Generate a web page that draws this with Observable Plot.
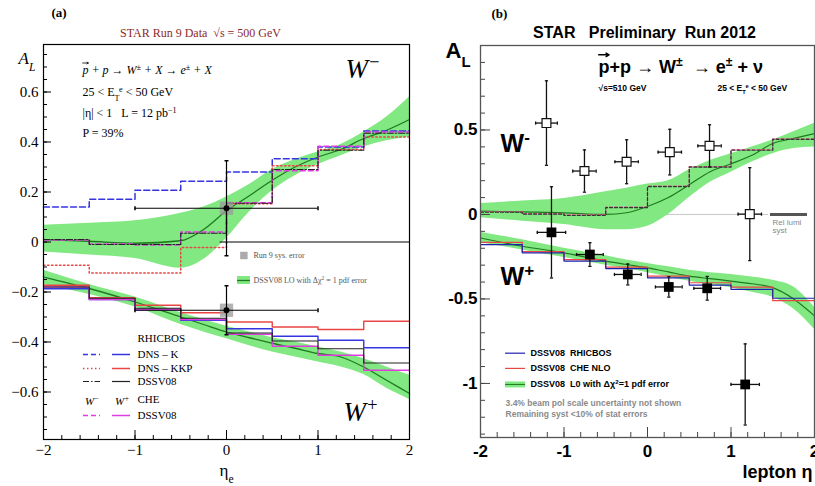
<!DOCTYPE html>
<html><head><meta charset="utf-8">
<script src="https://cdn.jsdelivr.net/npm/d3@7"></script>
<script src="https://cdn.jsdelivr.net/npm/@observablehq/plot@0.6"></script>
<style>
body{margin:0;background:#fff;}
#wrap{position:relative;width:815px;height:486px;overflow:hidden;background:#fff;}
#wrap svg{position:absolute;top:0;}
</style></head>
<body><div id="wrap"></div>
<script>
// ---------------- DATA ----------------
const binEdges = [-2,-1.5,-1,-0.5,0,0.5,1,1.5,2];
const bandEta = [-2,-1.5,-1,-0.5,-0.25,0,0.25,0.5,0.75,1,1.25,1.5,1.75,2];

// Panel (a): theory curves, W-
const aWmCenter = [0.01,0.003,-0.005,0.005,0.05,0.125,0.185,0.247,0.3,0.34,0.37,0.414,0.447,0.49];
const aWmLo     = [-0.04,-0.052,-0.066,-0.105,-0.07,0.015,0.12,0.205,0.265,0.31,0.345,0.38,0.405,0.42];
const aWmHi     = [0.067,0.075,0.085,0.115,0.14,0.18,0.23,0.29,0.33,0.36,0.39,0.44,0.5,0.58];
// Panel (a): theory curves, W+
const aWpCenter = [-0.14,-0.186,-0.24,-0.30,-0.33,-0.36,-0.383,-0.405,-0.425,-0.446,-0.46,-0.50,-0.553,-0.606];
const aWpHi     = [-0.113,-0.17,-0.22,-0.283,-0.31,-0.337,-0.36,-0.383,-0.40,-0.42,-0.44,-0.467,-0.50,-0.533];
const aWpLo     = [-0.17,-0.21,-0.26,-0.33,-0.36,-0.387,-0.415,-0.44,-0.46,-0.48,-0.50,-0.53,-0.585,-0.63];
// Panel (a): binned predictions (8 bins of 0.5)
const aWmDNSK    = [0.14,0.171,0.207,0.243,0.28,0.333,0.38,0.444];
const aWmDNSKKP  = [-0.093,-0.124,-0.124,-0.022,0.153,0.305,0.37,0.42];
const aWmDSSV    = [0.01,-0.01,-0.01,0.035,0.155,0.29,0.367,0.435];
const aWmCHE     = [0.008,-0.008,-0.012,0.04,0.157,0.285,0.383,0.44];
const aWpDNSK    = [-0.187,-0.23,-0.27,-0.313,-0.347,-0.377,-0.393,-0.423];
const aWpDNSKKP  = [-0.173,-0.223,-0.253,-0.283,-0.32,-0.34,-0.35,-0.317];
const aWpDSSV    = [-0.18,-0.225,-0.265,-0.305,-0.364,-0.396,-0.427,-0.484];
const aWpCHE     = [-0.18,-0.23,-0.27,-0.31,-0.369,-0.417,-0.453,-0.513];
// Panel (a): Run 9 data
const aDataEta  = [0, 0];
const aDataAL   = [0.135, -0.273];
const aDataErr  = [0.19, 0.098];
const aDataXErr = [1, 1];

// Panel (b): theory
const bWmCenter = [0.02,0.015,0.01,0.0,0.01,0.047,0.1,0.176,0.253,0.30,0.35,0.42,0.45,0.478];
const bWmLo     = [-0.02,-0.04,-0.06,-0.09,-0.09,-0.07,0.0,0.1,0.19,0.25,0.31,0.36,0.39,0.40];
const bWmHi     = [0.065,0.08,0.095,0.135,0.155,0.18,0.2,0.265,0.32,0.36,0.40,0.44,0.49,0.54];
const bWpCenter = [-0.139,-0.188,-0.227,-0.276,-0.296,-0.316,-0.34,-0.365,-0.38,-0.394,-0.41,-0.433,-0.5,-0.6];
const bWpHi     = [-0.105,-0.15,-0.2,-0.245,-0.27,-0.29,-0.31,-0.33,-0.345,-0.355,-0.37,-0.39,-0.43,-0.55];
const bWpLo     = [-0.167,-0.21,-0.255,-0.3,-0.32,-0.345,-0.37,-0.395,-0.415,-0.433,-0.46,-0.49,-0.56,-0.68];
const bWmRHIC   = [0.013,0.002,-0.006,0.04,0.165,0.28,0.38,0.445];
const bWmCHE    = [0.016,0.005,-0.003,0.043,0.168,0.284,0.384,0.448];
const bWpRHIC   = [-0.178,-0.227,-0.276,-0.32,-0.375,-0.418,-0.443,-0.496];
const bWpCHE    = [-0.165,-0.22,-0.267,-0.312,-0.365,-0.404,-0.43,-0.51];
// Panel (b): Run 2012 data
const bWmEta  = [-1.21,-0.755,-0.25,0.267,0.743,1.225];
const bWmAL   = [0.541,0.257,0.312,0.369,0.406,0.002];
const bWmErr  = [0.25,0.125,0.13,0.135,0.125,0.275];
const bWmXErr = [0.13,0.14,0.14,0.14,0.14,0.14];
const bWpEta  = [-1.15,-0.69,-0.236,0.255,0.715,1.17];
const bWpAL   = [-0.106,-0.237,-0.355,-0.429,-0.437,-1.006];
const bWpErr  = [0.27,0.07,0.062,0.06,0.07,0.24];
const bWpXErr = [0.17,0.16,0.16,0.16,0.16,0.17];

// tick labels
const aYTicks = [0.6,0.4,0.2,0,-0.2,-0.4,-0.6];
const aXTicks = [-2,-1,0,1,2];
const bYTicks = [0.5,0,-0.5,-1];
const bXTicks = [-2,-1,0,1,2];

// ---------------- HELPERS ----------------
const steps = v => binEdges.map((e,i)=>({x:e, y:v[Math.min(i, v.length-1)]}));
const band = (c,lo,hi) => bandEta.map((e,i)=>({eta:e, c:c[i], lo:lo[i], hi:hi[i]}));
const pts = (eta,al,err,xerr) => eta.map((e,i)=>({x:e, y:al[i], e:err[i], xe:xerr[i]}));
const range = (a,b,s) => d3.range(Math.round((b-a)/s)+1).map(i=>+(a+i*s).toFixed(4));
const capH = {draw(ctx,size){const r=Math.sqrt(size/Math.PI);ctx.moveTo(-r,0);ctx.lineTo(r,0);}};
const capV = {draw(ctx,size){const r=Math.sqrt(size/Math.PI);ctx.moveTo(0,-r);ctx.lineTo(0,r);}};
const T = (s,x,y,o={}) => Plot.text([s],{x,y,text:d=>d,lineAnchor:"middle",...o});
function richify(svg){
  const ns="http://www.w3.org/2000/svg";
  svg.querySelectorAll("text").forEach(t=>{
    if (t.children.length) return;
    const s=t.textContent; if(!/[_^]\{/.test(s)) return;
    t.textContent="";
    const re=/([_^])\{([^}]*)\}/g; let last=0,m;
    const add=(str,k)=>{const ts=document.createElementNS(ns,"tspan");ts.textContent=str;
      if(k){ts.setAttribute("font-size","68%");ts.setAttribute("baseline-shift",k==="^"?"super":"sub");}
      t.appendChild(ts);};
    while((m=re.exec(s))){ if(m.index>last) add(s.slice(last,m.index),null); add(m[2],m[1]); last=re.lastIndex; }
    if(last<s.length) add(s.slice(last),null);
  });
}

const GREEN="#82e882", DKGREEN="#1d7a1d";
const BLUE="#3535e0", RED="#ea4545", MAG="#e03de0", BLK="#222";

// ---------------- PANEL (a) ----------------
const A = {w:410,h:486,ml:43,mr:1,mt:44,mb:47};
const aPW = A.w-A.ml-A.mr, aPH = A.h-A.mt-A.mb;
const serif = "Liberation Serif, DejaVu Serif, serif";
const aWmBand = band(aWmCenter,aWmLo,aWmHi), aWpBand = band(aWpCenter,aWpLo,aWpHi);
const aPts = pts(aDataEta,aDataAL,aDataErr,aDataXErr);

const plotA = Plot.plot({
  width:A.w, height:A.h, marginLeft:A.ml, marginRight:A.mr, marginTop:A.mt, marginBottom:A.mb,
  style:{fontFamily:serif, background:"transparent", overflow:"visible"},
  x:{domain:[-2,2]}, y:{domain:[-0.79,0.79]},
  marks:[
    Plot.areaY(aWmBand,{x:"eta",y1:"lo",y2:"hi",fill:GREEN,curve:"monotone-x"}),
    Plot.areaY(aWpBand,{x:"eta",y1:"lo",y2:"hi",fill:GREEN,curve:"monotone-x"}),
    Plot.line(aWmBand,{x:"eta",y:"c",stroke:DKGREEN,strokeWidth:1.3,curve:"monotone-x"}),
    Plot.line(aWpBand,{x:"eta",y:"c",stroke:DKGREEN,strokeWidth:1.3,curve:"monotone-x"}),
    // W- predictions
    Plot.line(steps(aWmDNSK),{x:"x",y:"y",curve:"step-after",stroke:BLUE,strokeWidth:1.5,strokeDasharray:"6,3"}),
    Plot.line(steps(aWmDNSKKP),{x:"x",y:"y",curve:"step-after",stroke:RED,strokeWidth:1.5,strokeDasharray:"1.5,2.5"}),
    Plot.line(steps(aWmCHE),{x:"x",y:"y",curve:"step-after",stroke:MAG,strokeWidth:1.5,strokeDasharray:"5,3"}),
    Plot.line(steps(aWmDSSV),{x:"x",y:"y",curve:"step-after",stroke:BLK,strokeWidth:1.2,strokeDasharray:"6,2,1.5,2"}),
    // W+ predictions
    Plot.line(steps(aWpDNSKKP),{x:"x",y:"y",curve:"step-after",stroke:RED,strokeWidth:1.4}),
    Plot.line(steps(aWpDNSK),{x:"x",y:"y",curve:"step-after",stroke:BLUE,strokeWidth:1.4}),
    Plot.line(steps(aWpCHE),{x:"x",y:"y",curve:"step-after",stroke:MAG,strokeWidth:1.4}),
    Plot.line(steps(aWpDSSV),{x:"x",y:"y",curve:"step-after",stroke:BLK,strokeWidth:1.2}),
    // legend box top line
    Plot.ruleY([0],{x1:-0.07,x2:2,stroke:"black",strokeWidth:1}),
    // data
    Plot.dot(aPts,{x:"x",y:"y",symbol:"square",r:7.5,fill:"#999",fillOpacity:0.75}),
    Plot.ruleX(aPts,{x:"x",y1:d=>d.y-d.e,y2:d=>d.y+d.e,stroke:"black",strokeWidth:1.2}),
    Plot.ruleY(aPts,{y:"y",x1:d=>d.x-d.xe,x2:d=>d.x+d.xe,stroke:"black",strokeWidth:1.2}),
    Plot.dot(aPts,{x:"x",y:d=>d.y+d.e,symbol:capH,r:2,stroke:"black",fill:"none"}),
    Plot.dot(aPts,{x:"x",y:d=>d.y-d.e,symbol:capH,r:2,stroke:"black",fill:"none"}),
    Plot.dot(aPts,{x:d=>d.x-d.xe,y:"y",symbol:capV,r:2,stroke:"black",fill:"none"}),
    Plot.dot(aPts,{x:d=>d.x+d.xe,y:"y",symbol:capV,r:2,stroke:"black",fill:"none"}),
    Plot.dot(aPts,{x:"x",y:"y",r:3,fill:"black"}),
    // right-side legend
    Plot.dot([0],{x:0.19,y:-0.054,symbol:"square",r:4.2,fill:"#aaa"}),
    T("Run 9 sys. error",0.295,-0.054,{textAnchor:"start",fontSize:8,fill:"#555"}),
    Plot.rect([0],{x1:0.12,x2:0.262,y1:-0.138,y2:-0.17,fill:GREEN}),
    Plot.ruleY([-0.154],{x1:0.12,x2:0.262,stroke:DKGREEN,strokeWidth:1.3}),
    T("DSSV08 LO with Δχ^{2} = 1 pdf error",0.295,-0.154,{textAnchor:"start",fontSize:8,fill:"#555"}),
    // bottom-left legend
    T("RHICBOS",-0.973,-0.386,{textAnchor:"start",fontSize:11}),
    Plot.ruleY([-0.45],{x1:-1.563,x2:-1.377,stroke:BLUE,strokeWidth:1.5,strokeDasharray:"5,3"}),
    Plot.ruleY([-0.45],{x1:-1.246,x2:-1.049,stroke:BLUE,strokeWidth:1.5}),
    T("DNS – K",-0.973,-0.45,{textAnchor:"start",fontSize:11}),
    Plot.ruleY([-0.506],{x1:-1.563,x2:-1.377,stroke:RED,strokeWidth:1.5,strokeDasharray:"1.5,2.5"}),
    Plot.ruleY([-0.506],{x1:-1.246,x2:-1.049,stroke:RED,strokeWidth:1.5}),
    T("DNS – KKP",-0.973,-0.506,{textAnchor:"start",fontSize:11}),
    Plot.ruleY([-0.558],{x1:-1.563,x2:-1.377,stroke:BLK,strokeWidth:1.2,strokeDasharray:"6,2,1.5,2"}),
    Plot.ruleY([-0.558],{x1:-1.246,x2:-1.049,stroke:BLK,strokeWidth:1.2}),
    T("DSSV08",-0.973,-0.558,{textAnchor:"start",fontSize:11}),
    T("W^{−}",-1.47,-0.638,{fontSize:11,fontStyle:"italic"}),
    T("W^{+}",-1.14,-0.638,{fontSize:11,fontStyle:"italic"}),
    T("CHE",-0.973,-0.63,{textAnchor:"start",fontSize:11}),
    Plot.ruleY([-0.694],{x1:-1.563,x2:-1.377,stroke:MAG,strokeWidth:1.5,strokeDasharray:"5,3"}),
    Plot.ruleY([-0.694],{x1:-1.246,x2:-1.049,stroke:MAG,strokeWidth:1.5}),
    T("DSSV08",-0.973,-0.694,{textAnchor:"start",fontSize:11}),
    // annotations
    Plot.arrow([0],{x1:-1.572,x2:-1.51,y1:0.716,y2:0.716,headLength:3,strokeWidth:0.8,stroke:"black"}),
    T("p + p → W^{±} + X → e^{±} + X",-1.574,0.686,{textAnchor:"start",fontSize:12,fontStyle:"italic"}),
    T("25 < E_{T}^{e} < 50 GeV",-1.574,0.598,{textAnchor:"start",fontSize:12}),
    T("|η| < 1   L = 12 pb^{−1}",-1.574,0.514,{textAnchor:"start",fontSize:12}),
    T("P = 39%",-1.574,0.434,{textAnchor:"start",fontSize:12}),
    T("W^{−}",1.49,0.69,{fontSize:27,fontStyle:"italic"}),
    T("W^{+}",1.47,-0.682,{fontSize:27,fontStyle:"italic"}),
    // titles & axis labels (in margins)
    T("(a)",null,null,{frameAnchor:"top-left",dx:8,dy:-32,fontSize:13,fontWeight:"bold"}),
    T("STAR Run 9 Data  √s = 500 GeV",null,null,{frameAnchor:"top",dx:-26,dy:-11,fontSize:12,fill:"#8b2a2a"}),
    T("A_{L}",null,null,{frameAnchor:"top-left",dx:-25,dy:14,fontSize:17,fontStyle:"italic"}),
    T("η_{e}",null,null,{frameAnchor:"bottom",dy:31,fontSize:17}),
    // ticks (inside frame)
    Plot.tickY(range(-0.75,0.75,0.05),{y:d=>d,insetRight:aPW-4,stroke:"black"}),
    Plot.tickY(aYTicks,{y:d=>d,insetRight:aPW-8,stroke:"black"}),
    Plot.tickX(range(-2,2,0.2),{x:d=>d,insetTop:aPH-4,stroke:"black"}),
    Plot.tickX(aXTicks,{x:d=>d,insetTop:aPH-9,stroke:"black"}),
    Plot.axisY(aYTicks,{tickSize:0,tickPadding:5,label:null,fontSize:15,tickFormat:d=>d3.format("")(d).replace("-","−")}),
    Plot.axisX(aXTicks,{tickSize:0,tickPadding:5,label:null,fontSize:15,tickFormat:d=>String(d).replace("-","−")}),
    Plot.frame({stroke:"black",strokeWidth:1.2})
  ]
});

// ---------------- PANEL (b) ----------------
const B = {w:405,h:486,ml:70,mr:1,mt:45,mb:49};
const bPW = B.w-B.ml-B.mr, bPH = B.h-B.mt-B.mb;
const sans = "Liberation Sans, Arial, Helvetica, sans-serif";
const bWmBand = band(bWmCenter,bWmLo,bWmHi), bWpBand = band(bWpCenter,bWpLo,bWpHi);
const bWm = pts(bWmEta,bWmAL,bWmErr,bWmXErr), bWp = pts(bWpEta,bWpAL,bWpErr,bWpXErr);
const errMarks = (P) => [
  Plot.ruleX(P,{x:"x",y1:d=>d.y-d.e,y2:d=>d.y+d.e,stroke:"#111",strokeWidth:1.3}),
  Plot.ruleY(P,{y:"y",x1:d=>d.x-d.xe,x2:d=>d.x+d.xe,stroke:"#111",strokeWidth:1.3}),
  Plot.dot(P,{x:"x",y:d=>d.y+d.e,symbol:capH,r:1.6,stroke:"#111",fill:"none",strokeWidth:1.3}),
  Plot.dot(P,{x:"x",y:d=>d.y-d.e,symbol:capH,r:1.6,stroke:"#111",fill:"none",strokeWidth:1.3}),
  Plot.dot(P,{x:d=>d.x-d.xe,y:"y",symbol:capV,r:1.6,stroke:"#111",fill:"none",strokeWidth:1.3}),
  Plot.dot(P,{x:d=>d.x+d.xe,y:"y",symbol:capV,r:1.6,stroke:"#111",fill:"none",strokeWidth:1.3})
];

const plotB = Plot.plot({
  width:B.w, height:B.h, marginLeft:B.ml, marginRight:B.mr, marginTop:B.mt, marginBottom:B.mb,
  style:{fontFamily:sans, background:"transparent", overflow:"visible"},
  x:{domain:[-2,2]}, y:{domain:[-1.32,1.0]},
  marks:[
    Plot.ruleY([0],{x1:-2,x2:1.45,stroke:"#c8c8c8",strokeWidth:1}),
    Plot.areaY(bWmBand,{x:"eta",y1:"lo",y2:"hi",fill:GREEN,curve:"monotone-x"}),
    Plot.areaY(bWpBand,{x:"eta",y1:"lo",y2:"hi",fill:GREEN,curve:"monotone-x"}),
    Plot.line(bWmBand,{x:"eta",y:"c",stroke:DKGREEN,strokeWidth:1.2,curve:"monotone-x"}),
    Plot.line(bWpBand,{x:"eta",y:"c",stroke:DKGREEN,strokeWidth:1.2,curve:"monotone-x"}),
    Plot.line(steps(bWmCHE),{x:"x",y:"y",curve:"step-after",stroke:"#e0508c",strokeWidth:1.2,strokeDasharray:"3,2"}),
    Plot.line(steps(bWmRHIC),{x:"x",y:"y",curve:"step-after",stroke:"#333",strokeWidth:1.2,strokeDasharray:"3,2"}),
    Plot.line(steps(bWpCHE),{x:"x",y:"y",curve:"step-after",stroke:RED,strokeWidth:1.2}),
    Plot.line(steps(bWpRHIC),{x:"x",y:"y",curve:"step-after",stroke:"#2020b0",strokeWidth:1.2}),
    // rel lumi syst
    Plot.ruleY([0],{x1:1.473,x2:1.916,stroke:"#555",strokeWidth:3}),
    T("Rel lumi",1.497,-0.047,{textAnchor:"start",fontSize:8,fill:"#888"}),
    T("syst",1.497,-0.095,{textAnchor:"start",fontSize:8,fill:"#888"}),
    // data
    ...errMarks(bWm),
    Plot.dot(bWm,{x:"x",y:"y",symbol:"square",r:5,fill:"white",stroke:"#111",strokeWidth:1.2}),
    ...errMarks(bWp),
    Plot.dot(bWp,{x:"x",y:"y",symbol:"square",r:5.5,fill:"black"}),
    // labels
    Plot.arrow([0],{x1:-0.585,x2:-0.46,y1:0.945,y2:0.945,headLength:4,strokeWidth:1.4,stroke:"black"}),
    T("p+p → W^{±}  → e^{±} + ν",-0.587,0.87,{textAnchor:"start",fontSize:18,fontWeight:"bold"}),
    T("√s=510 GeV",-0.587,0.746,{textAnchor:"start",fontSize:8.5,fontWeight:"bold"}),
    T("25 < E_{T}^{e} < 50 GeV",0.838,0.746,{textAnchor:"start",fontSize:8.5,fontWeight:"bold"}),
    T("W^{-}",-1.76,0.42,{textAnchor:"start",fontSize:25,fontWeight:"bold"}),
    T("W^{+}",-1.76,-0.373,{textAnchor:"start",fontSize:25,fontWeight:"bold"}),
    // legend
    Plot.ruleY([-0.821],{x1:-1.70,x2:-1.46,stroke:"#2020b0",strokeWidth:1.2}),
    T("DSSV08  RHICBOS",-1.40,-0.821,{textAnchor:"start",fontSize:9,fontWeight:"bold"}),
    Plot.ruleY([-0.911],{x1:-1.70,x2:-1.46,stroke:RED,strokeWidth:1.2}),
    T("DSSV08  CHE NLO",-1.40,-0.911,{textAnchor:"start",fontSize:9,fontWeight:"bold"}),
    Plot.ruleY([-1.006],{x1:-1.70,x2:-1.46,stroke:GREEN,strokeWidth:6}),
    Plot.ruleY([-1.006],{x1:-1.70,x2:-1.46,stroke:DKGREEN,strokeWidth:1}),
    T("DSSV08  L0 with Δχ^{2}=1 pdf error",-1.40,-1.006,{textAnchor:"start",fontSize:9,fontWeight:"bold"}),
    T("3.4% beam pol scale uncertainty not shown",-1.70,-1.118,{textAnchor:"start",fontSize:8.5,fontWeight:"bold",fill:"#8a8a8a"}),
    T("Remaining syst <10% of stat errors",-1.70,-1.183,{textAnchor:"start",fontSize:8.5,fontWeight:"bold",fill:"#8a8a8a"}),
    // titles & axis labels
    T("(b)",null,null,{frameAnchor:"top-left",dx:11,dy:-32,fontSize:13,fontWeight:"bold",fontFamily:serif}),
    T("STAR   Preliminary  Run 2012",null,null,{frameAnchor:"top",dx:-3,dy:-13,fontSize:16,fontWeight:"bold"}),
    T("A_{L}",null,null,{frameAnchor:"top-left",dx:-35,dy:5,textAnchor:"start",fontSize:22,fontWeight:"bold"}),
    T("lepton η",null,null,{frameAnchor:"bottom-right",dx:-2,dy:35,textAnchor:"end",fontSize:18,fontWeight:"bold"}),
    // ticks
    Plot.tickY(range(-1.3,1.0,0.1),{y:d=>d,insetRight:bPW-5,stroke:"#444"}),
    Plot.tickY(bYTicks,{y:d=>d,insetRight:bPW-10,stroke:"#444"}),
    Plot.tickX(range(-2,2,0.2),{x:d=>d,insetTop:bPH-5,stroke:"#444"}),
    Plot.tickX(bXTicks,{x:d=>d,insetTop:bPH-10,stroke:"#444"}),
    Plot.axisY(bYTicks,{tickSize:0,tickPadding:3,label:null,fontSize:17,fontWeight:"bold",tickFormat:d=>String(d)}),
    Plot.axisX(bXTicks,{tickSize:0,tickPadding:7,label:null,fontSize:17,fontWeight:"bold",tickFormat:d=>String(d)}),
    Plot.frame({stroke:"#555",strokeWidth:1.3})
  ]
});

const wrap = document.getElementById("wrap");
plotA.style.left = "0px"; plotB.style.left = "410px";
wrap.appendChild(plotA); wrap.appendChild(plotB);
richify(plotA); richify(plotB);
</script>
</body></html>
